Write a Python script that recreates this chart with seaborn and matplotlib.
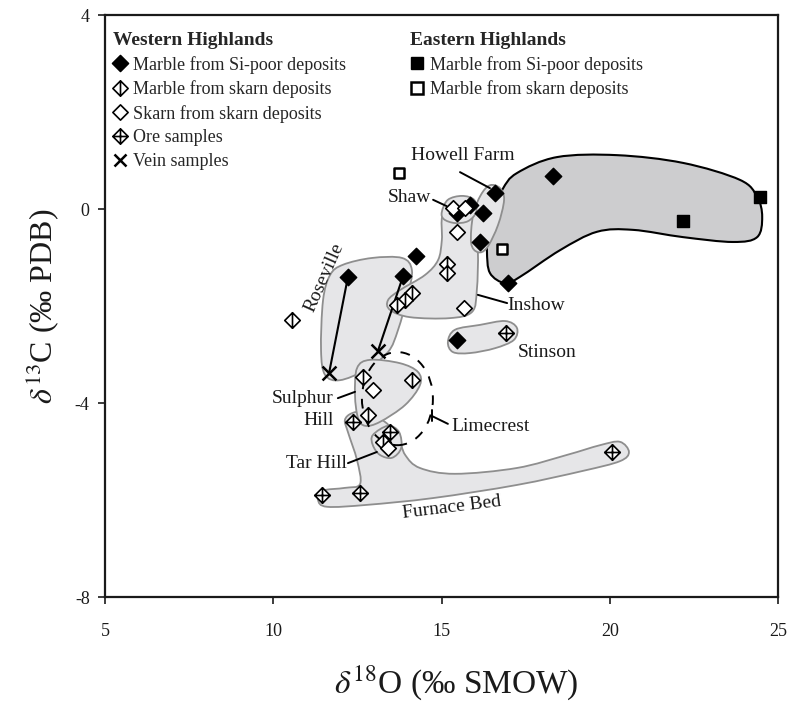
import numpy as np
import matplotlib
matplotlib.use("Agg")
import matplotlib.pyplot as plt
from matplotlib.path import Path
from matplotlib.patches import PathPatch, Ellipse
from matplotlib.lines import Line2D
import seaborn as sns

# ---------------- data (d18O, d13C) ----------------
w_sipoor_x = [12.22, 13.86, 14.24, 15.46, 15.85, 16.23, 16.59, 16.14, 16.98, 18.31, 15.46]
w_sipoor_y = [-1.40, -1.38, -0.97, -0.08, 0.08, -0.08, 0.33, -0.68, -1.53, 0.68, -2.70]

w_mskarn_x = [10.56, 15.16, 15.16, 14.12, 13.92, 13.68, 12.67, 14.12, 12.82, 13.26]
w_mskarn_y = [-2.29, -1.13, -1.32, -1.73, -1.88, -1.98, -3.46, -3.53, -4.25, -4.80]

w_skarn_x = [15.34, 15.70, 15.46, 15.67, 12.96, 13.41]
w_skarn_y = [0.02, 0.02, -0.47, -2.04, -3.73, -4.93]

w_ore_x = [12.37, 13.47, 11.45, 12.58, 20.07, 16.92]
w_ore_y = [-4.39, -4.60, -5.90, -5.86, -5.01, -2.56]

w_vein_x = [11.66, 13.11]
w_vein_y = [-3.38, -2.93]

e_sipoor_x = [22.18, 24.47]
e_sipoor_y = [-0.25, 0.25]

e_mskarn_x = [13.74, 16.80]
e_mskarn_y = [0.74, -0.82]

# tie lines marble -> vein (Roseville)
tie_x = [[12.22, 11.66], [13.86, 13.11]]
tie_y = [[-1.40, -3.38], [-1.38, -2.93]]

# ---------------- field outlines ----------------
east_x = [16.35, 16.44, 16.89, 17.33, 18.52, 19.62, 20.69, 22.18, 23.66, 24.38, 24.53, 24.38, 23.87, 22.18, 20.22, 18.43, 17.24, 16.80, 16.38]
east_y = [-0.85, -1.32, -1.53, -1.40, -0.85, -0.47, -0.43, -0.58, -0.68, -0.58, -0.16, 0.25, 0.60, 0.95, 1.11, 1.07, 0.74, 0.39, -0.23]

rose_x = [12.07, 12.93, 13.83, 14.12, 14.00, 13.71, 13.41, 12.73, 11.98, 11.54, 11.42, 11.48, 11.69]
rose_y = [-1.15, -1.01, -1.01, -1.26, -1.77, -2.49, -2.95, -3.32, -3.53, -3.42, -2.91, -1.88, -1.36]

insh_x = [15.04, 15.49, 15.97, 16.08, 16.05, 15.91, 15.25, 14.06, 13.47, 13.41, 13.77, 14.51, 14.90, 15.01]
insh_y = [-0.12, -0.02, -0.10, -0.85, -1.67, -2.12, -2.25, -2.23, -2.08, -1.88, -1.67, -1.36, -1.05, -0.64]

shaw_x = [15.01, 15.19, 15.61, 15.97, 16.03, 15.79, 15.40, 15.07]
shaw_y = [-0.06, 0.19, 0.27, 0.19, -0.06, -0.25, -0.29, -0.21]

howell_x = [16.44, 16.74, 16.86, 16.68, 16.35, 16.08, 15.88, 15.94, 16.17]
howell_y = [0.49, 0.43, 0.19, -0.33, -0.80, -0.89, -0.70, -0.12, 0.29]

stin_x = [15.19, 15.40, 16.14, 16.89, 17.24, 17.15, 16.59, 15.85, 15.34]
stin_y = [-2.74, -2.49, -2.39, -2.31, -2.45, -2.70, -2.87, -2.97, -2.95]

sulph_x = [12.49, 12.88, 13.77, 14.30, 14.36, 13.92, 13.17, 12.73, 12.52, 12.43]
sulph_y = [-3.28, -3.11, -3.18, -3.36, -3.63, -4.04, -4.39, -4.47, -4.31, -3.84]

tar_x = [12.96, 13.41, 13.74, 13.80, 13.53, 13.17, 12.96]
tar_y = [-4.66, -4.47, -4.60, -4.93, -5.13, -5.07, -4.87]

furn_x = [11.33, 11.45, 12.13, 12.58, 12.49, 12.22, 12.13, 12.34, 12.73, 13.32, 13.71, 13.92, 14.36, 15.40, 17.24, 18.73, 19.71, 20.30, 20.57, 20.30, 19.20, 17.24, 14.75, 12.79, 11.60]
furn_y = [-6.00, -5.81, -5.75, -5.67, -5.18, -4.60, -4.35, -4.21, -4.19, -4.39, -4.70, -5.07, -5.34, -5.46, -5.34, -5.07, -4.87, -4.80, -5.01, -5.20, -5.40, -5.69, -5.96, -6.10, -6.14]

lime_center = (13.69, -3.91)
lime_size = (2.11, 1.92)

x_ticks = [5, 10, 15, 20, 25]
y_ticks = [4, 0, -4, -8]

# ---------------- style ----------------
sns.set_theme(style="ticks")
plt.rcParams["font.family"] = ["Liberation Serif", "DejaVu Serif"]
plt.rcParams["mathtext.fontset"] = "stix"

fig = plt.figure(figsize=(7.88, 7.07), dpi=100)
ax = fig.add_axes([105 / 788, 1 - 597 / 707, 673 / 788, 582 / 707])
ax.set_xlim(5, 25)
ax.set_ylim(-8, 4)


def smooth_path(xs, ys):
    p = np.column_stack([xs, ys])
    n = len(p)
    verts = [p[0]]
    codes = [Path.MOVETO]
    for i in range(n):
        p0, p1, p2, p3 = p[(i - 1) % n], p[i], p[(i + 1) % n], p[(i + 2) % n]
        c1 = p1 + (p2 - p0) / 6.0
        c2 = p2 - (p3 - p1) / 6.0
        verts += [c1, c2, p2]
        codes += [Path.CURVE4] * 3
    return Path(verts, codes)


light_fill = "#e6e6e8"
light_edge = "#8e8e8e"

ax.add_patch(PathPatch(smooth_path(east_x, east_y), facecolor="#cdcdcf",
                       edgecolor="black", lw=1.5, zorder=1))
for xs, ys in [(furn_x, furn_y), (rose_x, rose_y), (insh_x, insh_y),
               (howell_x, howell_y), (shaw_x, shaw_y), (stin_x, stin_y),
               (sulph_x, sulph_y), (tar_x, tar_y)]:
    ax.add_patch(PathPatch(smooth_path(xs, ys), facecolor=light_fill,
                           edgecolor=light_edge, lw=1.3, zorder=2))

ax.add_patch(Ellipse(lime_center, lime_size[0], lime_size[1], fill=False,
                     edgecolor="black", lw=1.4, ls=(0, (5, 5)), zorder=3))

for tx, ty in zip(tie_x, tie_y):
    ax.plot(tx, ty, color="black", lw=1.5, zorder=3)

# markers
dia = Path([(0, 1), (1, 0), (0, -1), (-1, 0), (0, 1)],
           [Path.MOVETO, Path.LINETO, Path.LINETO, Path.LINETO, Path.CLOSEPOLY])
dia_v = Path([(0, 1), (1, 0), (0, -1), (-1, 0), (0, 1), (0, 1), (0, -1)],
             [Path.MOVETO, Path.LINETO, Path.LINETO, Path.LINETO, Path.CLOSEPOLY,
              Path.MOVETO, Path.LINETO])
dia_p = Path([(0, 1), (1, 0), (0, -1), (-1, 0), (0, 1), (0, 1), (0, -1), (-1, 0), (1, 0)],
             [Path.MOVETO, Path.LINETO, Path.LINETO, Path.LINETO, Path.CLOSEPOLY,
              Path.MOVETO, Path.LINETO, Path.MOVETO, Path.LINETO])

S_D = 125
sns.scatterplot(x=w_mskarn_x, y=w_mskarn_y, marker=dia_v, s=S_D, color="white",
                edgecolor="black", linewidth=1.2, ax=ax, zorder=5)
sns.scatterplot(x=w_ore_x, y=w_ore_y, marker=dia_p, s=S_D, color="white",
                edgecolor="black", linewidth=1.2, ax=ax, zorder=5)
sns.scatterplot(x=w_sipoor_x, y=w_sipoor_y, marker=dia, s=S_D + 15, color="black",
                edgecolor="black", linewidth=1.0, ax=ax, zorder=5)
sns.scatterplot(x=w_skarn_x, y=w_skarn_y, marker=dia, s=S_D, color="white",
                edgecolor="black", linewidth=1.2, ax=ax, zorder=6)
sns.scatterplot(x=w_vein_x, y=w_vein_y, marker="x", s=100, color="black",
                linewidth=1.8, ax=ax, zorder=6)
sns.scatterplot(x=e_sipoor_x, y=e_sipoor_y, marker="s", s=75, color="black",
                edgecolor="black", linewidth=1.0, ax=ax, zorder=5)
sns.scatterplot(x=e_mskarn_x, y=e_mskarn_y, marker="s", s=60, color="white",
                edgecolor="black", linewidth=1.8, ax=ax, zorder=5)

# labels of fields
fs_lab = 14
tk = dict(fontsize=fs_lab, color="#1a1a1a", zorder=7)
ax.text(15.64, 1.11, "Howell Farm", ha="center", va="center", **tk)
ax.text(14.70, 0.23, "Shaw", ha="right", va="center", **tk)
ax.text(11.51, -1.42, "Roseville", ha="center", va="center", rotation=66, **tk)
ax.text(16.95, -1.98, "Inshow", ha="left", va="center", **tk)
ax.text(18.15, -2.95, "Stinson", ha="center", va="center", **tk)
ax.text(11.80, -3.90, "Sulphur", ha="right", va="center", **tk)
ax.text(11.80, -4.37, "Hill", ha="right", va="center", **tk)
ax.text(12.19, -5.24, "Tar Hill", ha="right", va="center", **tk)
ax.text(15.28, -4.49, "Limecrest", ha="left", va="center", **tk)
ax.text(15.31, -6.16, "Furnace Bed", ha="center", va="center", rotation=7, **tk)

lk = dict(color="black", lw=1.4, zorder=4)
ax.plot([15.55, 16.44], [0.76, 0.43], **lk)
ax.plot([14.75, 15.15], [0.19, 0.06], **lk)
ax.plot([16.08, 16.95], [-1.77, -1.94], **lk)
ax.plot([11.92, 12.43], [-3.90, -3.77], **lk)
ax.plot([12.22, 13.08], [-5.24, -5.01], **lk)
ax.plot([14.72, 15.19], [-4.27, -4.43], **lk)
ax.plot([14.72, 14.72], [-4.15, -4.37], **lk)

# legends
fs_leg = 13
def h(marker, mfc, ms, mew=1.2):
    return Line2D([], [], ls="", marker=marker, mfc=mfc, mec="black", ms=ms, mew=mew)

west_handles = [h(dia, "black", 11.5), h(dia_v, "white", 11), h(dia, "white", 11),
                h(dia_p, "white", 11), h("x", "black", 9, 1.8)]
west_labels = ["Marble from Si-poor deposits", "Marble from skarn deposits",
               "Skarn from skarn deposits", "Ore samples", "Vein samples"]
east_handles = [h("s", "black", 8.5, 1.0), h("s", "white", 8, 1.8)]
east_labels = ["Marble from Si-poor deposits", "Marble from skarn deposits"]

leg_kw = dict(frameon=False, fontsize=fs_leg, handlelength=0.8, handletextpad=0.3,
              labelspacing=0.37, borderaxespad=0.0, borderpad=0.0,
              title_fontproperties={"weight": "bold", "size": 14})
leg1 = ax.legend(west_handles, west_labels, title="Western Highlands", loc="upper left",
                 bbox_to_anchor=(8 / 673, 1 - 17 / 582), **leg_kw)
leg1._legend_box.align = "left"
ax.add_artist(leg1)
leg2 = ax.legend(east_handles, east_labels, title="Eastern Highlands", loc="upper left",
                 bbox_to_anchor=(305 / 673, 1 - 17 / 582), **leg_kw)
leg2._legend_box.align = "left"

# axes
ax.set_xticks(x_ticks)
ax.set_yticks(y_ticks)
ax.set_xticklabels([str(v) for v in x_ticks])
ax.set_yticklabels([str(v) for v in y_ticks])
ax.tick_params(direction="out", length=5, width=1.2, labelsize=13, colors="#1a1a1a")
ax.tick_params(axis="x", pad=14)
ax.tick_params(axis="y", pad=6)
for sp in ax.spines.values():
    sp.set_linewidth(1.6)
    sp.set_color("#1a1a1a")
ax.set_xlabel(r"$\delta^{18}$O (‰ SMOW)", fontsize=24, color="#1a1a1a")
ax.xaxis.set_label_coords((456 - 105) / 673, -0.115)
ax.set_ylabel(r"$\delta^{13}$C (‰ PDB)", fontsize=23, labelpad=10, color="#1a1a1a")

fig.savefig("out.png", dpi=100)
